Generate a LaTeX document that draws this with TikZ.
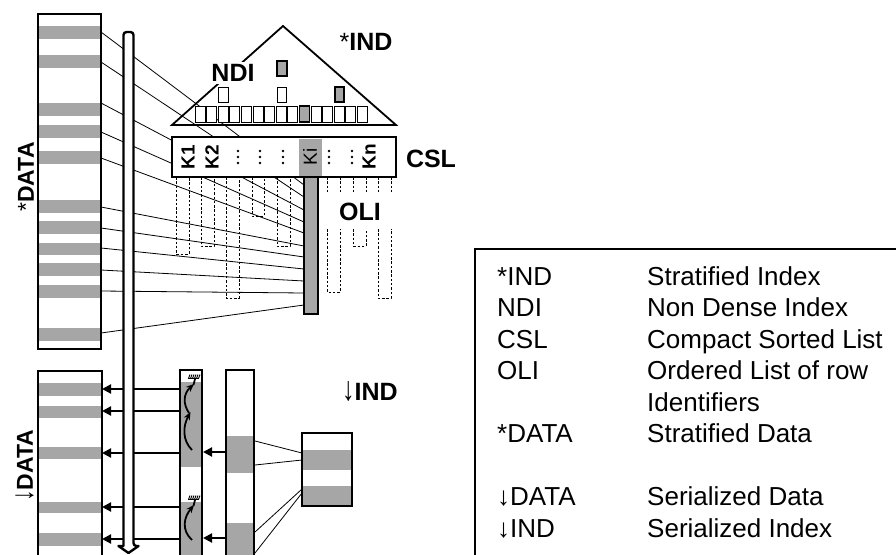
\documentclass[tikz,border=0pt]{standalone}
\usepackage{fontspec}
\setmainfont{Liberation Sans}
\usetikzlibrary{arrows.meta}
\definecolor{mg}{RGB}{166,166,166}
\newcommand\dnarr{{\mdseries\smash{\scalebox{1}[1.35]{↓}}}}
\begin{document}
\begin{tikzpicture}[x=1pt,y=-1pt,
  thickb/.style={line width=2pt},
  thinl/.style={line width=0.8pt},
  dsh/.style={line width=0.7pt,dash pattern=on 2.5pt off 1.8pt},
  lbl/.style={font=\fontsize{25}{28}\selectfont\bfseries,inner sep=0pt},
  rlbl/.style={font=\fontsize{23}{26}\selectfont\bfseries,inner sep=0pt,rotate=90},
  klbl/.style={font=\fontsize{19}{19}\selectfont\bfseries,inner sep=0pt,rotate=90},
  leg/.style={font=\fontsize{26}{29}\selectfont,inner sep=0pt,anchor=base west},
  arr/.style={line width=2pt,-{Triangle[length=9pt,width=9pt]}},
  wig/.style={line width=1.8pt,-{Stealth[length=8pt,width=6.5pt]}},
]
\useasboundingbox (0,0) rectangle (896,554);

% ---------- lines from *DATA rows to the OLI bar of Ki ----------
\foreach \a/\b in {32/185,62/197,103/210,132/222,158/233,207/246,228/257,248/269,270/281,291/293,333/305}
  \draw[thinl] (101,\a) -- (304,\b);

% ---------- top data block *DATA ----------
\fill[white] (38,14) rectangle (101,349);
\foreach \t/\u in {26/39,55/68,103/116,125/138,151/164,200/213,221/234,243/255,263/276,285/298,328/341}
  \fill[mg] (39,\t) rectangle (100,\u);
\draw[thickb] (38,14) rectangle (101,349);
\node[rlbl] (sdata) at (26,177) {{\mdseries*}DATA};

% ---------- triangle *IND ----------
\draw[line width=1.8pt,line join=miter] (172,125) -- (283,26) -- (396,125) -- cycle;
\node[lbl,fill=white,inner sep=2pt] (ndi) at (233,73) {NDI};
\node[lbl] (sind) at (366,42) {{\mdseries*}IND};
\foreach \i in {0,...,14}
  \draw[line width=0.9pt,fill=white] ({195+\i*11.6},106) rectangle ({195+(\i+1)*11.6-1.5},122);
\draw[line width=1.6pt,fill=mg] ({195+9*11.6},106) rectangle ({195+10*11.6-1.5},122);
\draw[line width=0.9pt,fill=white] (218,87) rectangle (228,102);
\draw[line width=0.9pt,fill=white] (277,87) rectangle (286,102);
\draw[line width=1.6pt,fill=mg] (335,87) rectangle (344,102);
\draw[line width=1.6pt,fill=mg] (277,61) rectangle (287,76);

% ---------- OLI gray bar ----------
\draw[thickb,fill=mg] (304,170) rectangle (318,314);

% ---------- dashed OLI lists ----------
\foreach \l/\r/\b in {176/189/254,201/214/246,226/239/298,252/264/216,277/290/246}
  \draw[dsh] (\l,177) -- (\l,\b) -- (\r,\b) -- (\r,177);
\foreach \x in {327,340,353,366,378,391}
  \draw[dsh] (\x,177) -- (\x,194);
\foreach \l/\r/\b in {327/340/292,353/366/246,378/391/298}
  \draw[dsh] (\l,229) -- (\l,\b) -- (\r,\b) -- (\r,229);
\node[lbl] (oli) at (360,212) {OLI};

% ---------- CSL box ----------
\draw[thickb,fill=white] (172,137) rectangle (396,177);
\fill[mg] (299,138.5) rectangle (322,175.5);
\node[klbl] (k1) at (188,157) {K1};
\node[klbl] (k2) at (212,157) {K2};
\node[klbl,font=\fontsize{19}{19}\selectfont] (ki) at (310,157) {Ki};
\node[klbl] (kn) at (369,157) {Kn};
\foreach \x in {238,260,283,329,352}
  \foreach \y in {151,157,163}
    \fill (\x,\y) circle (1.4);
\node[lbl] (csl) at (431,159) {CSL};

% ---------- lower part: arrows to serialized data ----------
\foreach \y in {389,411,453,507,539}
  \draw[arr] (180,\y) -- (102,\y);
\draw[arr] (226,452) -- (203,452);
\draw[arr] (226,538) -- (203,538);

% ---------- pipe ----------
\draw[line width=2.4pt,fill=white,line join=round,rounded corners=3pt]
  (123.5,546) -- (123.5,32) -- (133.5,32) -- (133.5,546) [sharp corners] -- (138.5,546) -- (128.5,553) -- (118.5,546) -- cycle;

% ---------- lower data block ----------
\fill[white] (38,371) rectangle (102,560);
\foreach \t/\u in {383/396,406/418,447/459,502/513,533/546}
  \fill[mg] (39,\t) rectangle (101,\u);
\draw[thickb] (38,371) rectangle (102,560);
\node[rlbl] (ddata) at (25,466) {\dnarr DATA};

% ---------- sort column ----------
\fill[white] (180,370) rectangle (202,560);
\fill[mg] (180,382) rectangle (202,467);
\fill[mg] (180,502) rectangle (202,560);
\draw[thickb] (180,370) rectangle (202,560);
\draw[wig] (192,450) .. controls (182,440) and (183,426) .. (190.5,412);
\draw[wig] (189,413) .. controls (183,404) and (183,394) .. (194,384);
\draw[line width=1.8pt] (193.5,385) -- (195,379);
\draw[wig] (192,540) .. controls (181,530) and (184,517) .. (194,505);
\draw[line width=1.8pt] (193.5,506) -- (195,500);
\foreach \y in {378.5,499.5}{
  \draw[line width=1pt] (188,\y) -- (199,\y);
  \foreach \x in {188.5,190.5,...,198.5}
    \draw[line width=0.9pt] (\x,\y) -- (\x+1.5,\y-4);
}

% ---------- second column ----------
\fill[white] (226,370) rectangle (254,560);
\fill[mg] (226,436) rectangle (254,473);
\fill[mg] (226,523) rectangle (254,560);
\draw[thickb] (226,370) rectangle (254,560);

% ---------- serialized index ----------
\draw[thinl] (255,441) -- (302,453);
\draw[thinl] (255,465) -- (302,460);
\draw[thinl] (255,532) -- (302,489);
\draw[thinl] (255,553) -- (302,493);
\fill[white] (302,433) rectangle (352,506);
\fill[mg] (302,450) rectangle (352,470);
\fill[mg] (302,486) rectangle (352,506);
\draw[thickb] (302,433) rectangle (352,506);
\node[lbl] (dind) at (370,392) {\dnarr IND};

% ---------- legend ----------
\draw[line width=1.5pt] (475,560) -- (475,249) -- (900,249);
\foreach \y/\a/\b in {285/*IND/Stratified Index,316.5/NDI/Non Dense Index,348/CSL/Compact Sorted List,379.5/OLI/Ordered List of row,411//Identifiers,442.5/*DATA/Stratified Data,505.5/↓DATA/Serialized Data,537/↓IND/Serialized Index}{
  \node[leg] at (497,\y) {\a};
  \node[leg] at (647,\y) {\b};
}
\end{tikzpicture}
\end{document}
